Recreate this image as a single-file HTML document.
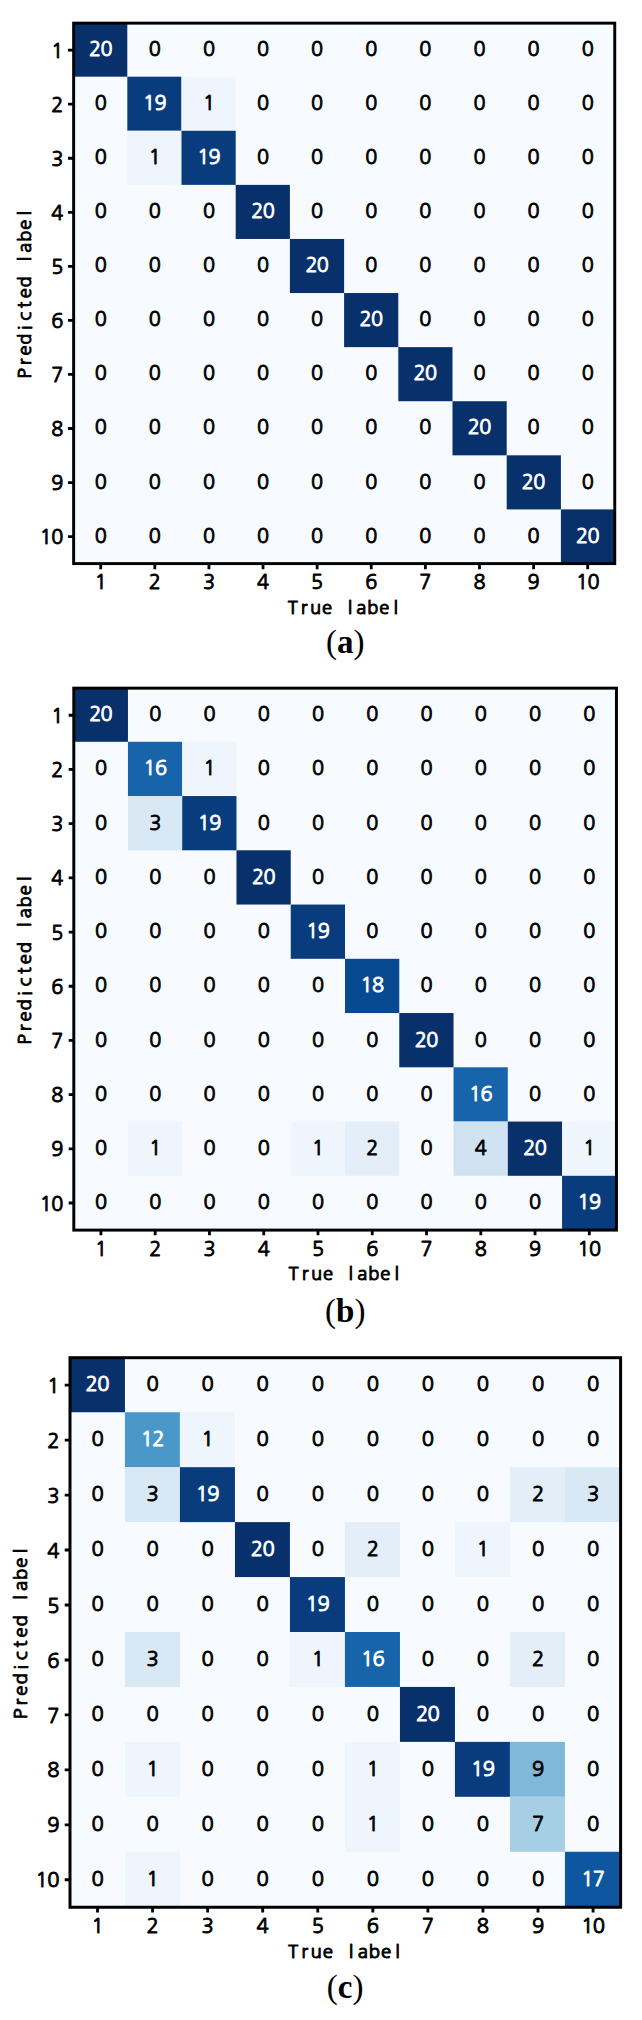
<!DOCTYPE html>
<html><head><meta charset="utf-8"><title>Confusion matrices</title>
<style>html,body{margin:0;padding:0;background:#fff}svg{display:block}</style></head>
<body>
<svg width="642" height="2020" viewBox="0 0 642 2020">
<rect width="642" height="2020" fill="#fff"/>
<rect x="73.65" y="23.15" width="541.1" height="540.45" fill="#f7fbff"/>
<rect x="73.1" y="22.6" width="54.2" height="54.09" fill="#08306b"/>
<rect x="127.3" y="76.69" width="54.2" height="54.09" fill="#083c7d"/>
<rect x="181.5" y="76.69" width="54.2" height="54.09" fill="#eef5fc"/>
<rect x="127.3" y="130.78" width="54.2" height="54.09" fill="#eef5fc"/>
<rect x="181.5" y="130.78" width="54.2" height="54.09" fill="#083c7d"/>
<rect x="235.7" y="184.87" width="54.2" height="54.09" fill="#08306b"/>
<rect x="289.9" y="238.96" width="54.2" height="54.09" fill="#08306b"/>
<rect x="344.1" y="293.05" width="54.2" height="54.09" fill="#08306b"/>
<rect x="398.3" y="347.14" width="54.2" height="54.09" fill="#08306b"/>
<rect x="452.5" y="401.23" width="54.2" height="54.09" fill="#08306b"/>
<rect x="506.7" y="455.32" width="54.2" height="54.09" fill="#08306b"/>
<rect x="560.9" y="509.41" width="54.2" height="54.09" fill="#08306b"/>
<rect x="73.65" y="23.15" width="541.1" height="540.45" fill="none" stroke="#000" stroke-width="2.95"/>
<path d="M73.65 50.17h-5.7M100.71 563.6v5.7M73.65 104.22h-5.7M154.81 563.6v5.7M73.65 158.26h-5.7M208.93 563.6v5.7M73.65 212.31h-5.7M263.03 563.6v5.7M73.65 266.35h-5.7M317.14 563.6v5.7M73.65 320.4h-5.7M371.25 563.6v5.7M73.65 374.44h-5.7M425.37 563.6v5.7M73.65 428.49h-5.7M479.48 563.6v5.7M73.65 482.53h-5.7M533.59 563.6v5.7M73.65 536.58h-5.7M587.69 563.6v5.7" stroke="#000" stroke-width="2.8" fill="none"/>
<g transform="scale(1.0 1)" font-family="NanumGothic, Liberation Sans, sans-serif" font-size="19.9" text-anchor="middle" stroke-width="0.9" stroke-linejoin="round" fill="#000" stroke="#000">
<text x="94.99 106.42" y="55.77" fill="#fff" stroke="#fff">20</text>
<text x="154.81" y="55.77">0</text>
<text x="208.93" y="55.77">0</text>
<text x="263.03" y="55.77">0</text>
<text x="317.14" y="55.77">0</text>
<text x="371.25" y="55.77">0</text>
<text x="425.37" y="55.77">0</text>
<text x="479.48" y="55.77">0</text>
<text x="533.59" y="55.77">0</text>
<text x="587.69" y="55.77">0</text>
<text x="100.71" y="109.87">0</text>
<text x="149.1 160.53" y="109.87" fill="#fff" stroke="#fff">19</text>
<text x="208.93" y="109.87">1</text>
<text x="263.03" y="109.87">0</text>
<text x="317.14" y="109.87">0</text>
<text x="371.25" y="109.87">0</text>
<text x="425.37" y="109.87">0</text>
<text x="479.48" y="109.87">0</text>
<text x="533.59" y="109.87">0</text>
<text x="587.69" y="109.87">0</text>
<text x="100.71" y="163.97">0</text>
<text x="154.81" y="163.97">1</text>
<text x="203.21 214.64" y="163.97" fill="#fff" stroke="#fff">19</text>
<text x="263.03" y="163.97">0</text>
<text x="317.14" y="163.97">0</text>
<text x="371.25" y="163.97">0</text>
<text x="425.37" y="163.97">0</text>
<text x="479.48" y="163.97">0</text>
<text x="533.59" y="163.97">0</text>
<text x="587.69" y="163.97">0</text>
<text x="100.71" y="218.07">0</text>
<text x="154.81" y="218.07">0</text>
<text x="208.93" y="218.07">0</text>
<text x="257.32 268.75" y="218.07" fill="#fff" stroke="#fff">20</text>
<text x="317.14" y="218.07">0</text>
<text x="371.25" y="218.07">0</text>
<text x="425.37" y="218.07">0</text>
<text x="479.48" y="218.07">0</text>
<text x="533.59" y="218.07">0</text>
<text x="587.69" y="218.07">0</text>
<text x="100.71" y="272.17">0</text>
<text x="154.81" y="272.17">0</text>
<text x="208.93" y="272.17">0</text>
<text x="263.03" y="272.17">0</text>
<text x="311.43 322.86" y="272.17" fill="#fff" stroke="#fff">20</text>
<text x="371.25" y="272.17">0</text>
<text x="425.37" y="272.17">0</text>
<text x="479.48" y="272.17">0</text>
<text x="533.59" y="272.17">0</text>
<text x="587.69" y="272.17">0</text>
<text x="100.71" y="326.28">0</text>
<text x="154.81" y="326.28">0</text>
<text x="208.93" y="326.28">0</text>
<text x="263.03" y="326.28">0</text>
<text x="317.14" y="326.28">0</text>
<text x="365.54 376.97" y="326.28" fill="#fff" stroke="#fff">20</text>
<text x="425.37" y="326.28">0</text>
<text x="479.48" y="326.28">0</text>
<text x="533.59" y="326.28">0</text>
<text x="587.69" y="326.28">0</text>
<text x="100.71" y="380.38">0</text>
<text x="154.81" y="380.38">0</text>
<text x="208.93" y="380.38">0</text>
<text x="263.03" y="380.38">0</text>
<text x="317.14" y="380.38">0</text>
<text x="371.25" y="380.38">0</text>
<text x="419.65 431.08" y="380.38" fill="#fff" stroke="#fff">20</text>
<text x="479.48" y="380.38">0</text>
<text x="533.59" y="380.38">0</text>
<text x="587.69" y="380.38">0</text>
<text x="100.71" y="434.48">0</text>
<text x="154.81" y="434.48">0</text>
<text x="208.93" y="434.48">0</text>
<text x="263.03" y="434.48">0</text>
<text x="317.14" y="434.48">0</text>
<text x="371.25" y="434.48">0</text>
<text x="425.37" y="434.48">0</text>
<text x="473.76 485.19" y="434.48" fill="#fff" stroke="#fff">20</text>
<text x="533.59" y="434.48">0</text>
<text x="587.69" y="434.48">0</text>
<text x="100.71" y="488.58">0</text>
<text x="154.81" y="488.58">0</text>
<text x="208.93" y="488.58">0</text>
<text x="263.03" y="488.58">0</text>
<text x="317.14" y="488.58">0</text>
<text x="371.25" y="488.58">0</text>
<text x="425.37" y="488.58">0</text>
<text x="479.48" y="488.58">0</text>
<text x="527.87 539.3" y="488.58" fill="#fff" stroke="#fff">20</text>
<text x="587.69" y="488.58">0</text>
<text x="100.71" y="542.68">0</text>
<text x="154.81" y="542.68">0</text>
<text x="208.93" y="542.68">0</text>
<text x="263.03" y="542.68">0</text>
<text x="317.14" y="542.68">0</text>
<text x="371.25" y="542.68">0</text>
<text x="425.37" y="542.68">0</text>
<text x="479.48" y="542.68">0</text>
<text x="533.59" y="542.68">0</text>
<text x="581.98 593.41" y="542.68" fill="#fff" stroke="#fff">20</text>
<text x="100.71" y="589.2">1</text>
<text x="154.81" y="589.2">2</text>
<text x="208.93" y="589.2">3</text>
<text x="263.03" y="589.2">4</text>
<text x="317.14" y="589.2">5</text>
<text x="371.25" y="589.2">6</text>
<text x="425.37" y="589.2">7</text>
<text x="479.48" y="589.2">8</text>
<text x="533.59" y="589.2">9</text>
<text x="581.98 593.41" y="589.2">10</text>
<text x="57.25" y="57.67">1</text>
<text x="57.25" y="111.72">2</text>
<text x="57.25" y="165.76">3</text>
<text x="57.25" y="219.81">4</text>
<text x="57.25" y="273.85">5</text>
<text x="57.25" y="327.9">6</text>
<text x="57.25" y="381.94">7</text>
<text x="57.25" y="435.99">8</text>
<text x="57.25" y="490.03">9</text>
<text x="45.82 57.25" y="544.08">10</text>
</g>
<text transform="scale(1.03 1)" font-family="NanumGothic, Liberation Sans, sans-serif" font-size="17.8" text-anchor="middle" stroke-width="0.9" stroke-linejoin="round" fill="#000" stroke="#000" x="284.24 295.33 306.43 317.53 328.63 339.72 350.82 361.92 373.01 384.11" y="613.8">True label</text>
<text transform="translate(31.45 293.38) rotate(-90) scale(1.03 1)" font-family="NanumGothic, Liberation Sans, sans-serif" font-size="17.8" text-anchor="middle" stroke-width="0.9" stroke-linejoin="round" fill="#000" stroke="#000" x="-77.68 -66.58 -55.49 -44.39 -33.29 -22.19 -11.1 0 11.1 22.19 33.29 44.39 55.49 66.58 77.68" y="0">Predicted label</text>
<text x="345.2" y="652.7" font-family="Liberation Serif, serif" font-size="33" text-anchor="middle" fill="#000">(<tspan font-weight="bold">a</tspan>)</text>
<rect x="73.8" y="688.15" width="542.65" height="541.95" fill="#f7fbff"/>
<rect x="73.68" y="687.55" width="54.27" height="54.25" fill="#08306b"/>
<rect x="127.95" y="741.8" width="54.27" height="54.25" fill="#1764ab"/>
<rect x="182.21" y="741.8" width="54.27" height="54.25" fill="#eef5fc"/>
<rect x="127.95" y="796.05" width="54.27" height="54.25" fill="#d9e8f5"/>
<rect x="182.21" y="796.05" width="54.27" height="54.25" fill="#083c7d"/>
<rect x="236.48" y="850.3" width="54.27" height="54.25" fill="#08306b"/>
<rect x="290.74" y="904.55" width="54.27" height="54.25" fill="#083c7d"/>
<rect x="345" y="958.8" width="54.27" height="54.25" fill="#084a91"/>
<rect x="399.27" y="1013.05" width="54.27" height="54.25" fill="#08306b"/>
<rect x="453.54" y="1067.3" width="54.27" height="54.25" fill="#1764ab"/>
<rect x="127.95" y="1121.55" width="54.27" height="54.25" fill="#eef5fc"/>
<rect x="290.74" y="1121.55" width="54.27" height="54.25" fill="#eef5fc"/>
<rect x="345" y="1121.55" width="54.27" height="54.25" fill="#e3eef9"/>
<rect x="453.54" y="1121.55" width="54.27" height="54.25" fill="#d0e1f2"/>
<rect x="507.8" y="1121.55" width="54.27" height="54.25" fill="#08306b"/>
<rect x="562.07" y="1121.55" width="54.27" height="54.25" fill="#eef5fc"/>
<rect x="562.07" y="1175.8" width="54.27" height="54.25" fill="#083c7d"/>
<rect x="73.8" y="688.15" width="542.65" height="541.95" fill="none" stroke="#000" stroke-width="2.96"/>
<path d="M73.8 715.25h-5.12M100.93 1230.1v5.12M73.8 769.44h-5.12M155.2 1230.1v5.12M73.8 823.64h-5.12M209.46 1230.1v5.12M73.8 877.83h-5.12M263.73 1230.1v5.12M73.8 932.03h-5.12M317.99 1230.1v5.12M73.8 986.22h-5.12M372.26 1230.1v5.12M73.8 1040.42h-5.12M426.52 1230.1v5.12M73.8 1094.61h-5.12M480.79 1230.1v5.12M73.8 1148.81h-5.12M535.05 1230.1v5.12M73.8 1203h-5.12M589.32 1230.1v5.12" stroke="#000" stroke-width="2.81" fill="none"/>
<g transform="scale(1.0 1)" font-family="NanumGothic, Liberation Sans, sans-serif" font-size="19.96" text-anchor="middle" stroke-width="0.9" stroke-linejoin="round" fill="#000" stroke="#000">
<text x="95.2 106.66" y="721.27" fill="#fff" stroke="#fff">20</text>
<text x="155.2" y="721.27">0</text>
<text x="209.46" y="721.27">0</text>
<text x="263.73" y="721.27">0</text>
<text x="317.99" y="721.27">0</text>
<text x="372.26" y="721.27">0</text>
<text x="426.52" y="721.27">0</text>
<text x="480.79" y="721.27">0</text>
<text x="535.05" y="721.27">0</text>
<text x="589.32" y="721.27">0</text>
<text x="100.93" y="775.48">0</text>
<text x="149.47 160.93" y="775.48" fill="#fff" stroke="#fff">16</text>
<text x="209.46" y="775.48">1</text>
<text x="263.73" y="775.48">0</text>
<text x="317.99" y="775.48">0</text>
<text x="372.26" y="775.48">0</text>
<text x="426.52" y="775.48">0</text>
<text x="480.79" y="775.48">0</text>
<text x="535.05" y="775.48">0</text>
<text x="589.32" y="775.48">0</text>
<text x="100.93" y="829.7">0</text>
<text x="155.2" y="829.7">3</text>
<text x="203.73 215.19" y="829.7" fill="#fff" stroke="#fff">19</text>
<text x="263.73" y="829.7">0</text>
<text x="317.99" y="829.7">0</text>
<text x="372.26" y="829.7">0</text>
<text x="426.52" y="829.7">0</text>
<text x="480.79" y="829.7">0</text>
<text x="535.05" y="829.7">0</text>
<text x="589.32" y="829.7">0</text>
<text x="100.93" y="883.92">0</text>
<text x="155.2" y="883.92">0</text>
<text x="209.46" y="883.92">0</text>
<text x="258 269.46" y="883.92" fill="#fff" stroke="#fff">20</text>
<text x="317.99" y="883.92">0</text>
<text x="372.26" y="883.92">0</text>
<text x="426.52" y="883.92">0</text>
<text x="480.79" y="883.92">0</text>
<text x="535.05" y="883.92">0</text>
<text x="589.32" y="883.92">0</text>
<text x="100.93" y="938.13">0</text>
<text x="155.2" y="938.13">0</text>
<text x="209.46" y="938.13">0</text>
<text x="263.73" y="938.13">0</text>
<text x="312.26 323.72" y="938.13" fill="#fff" stroke="#fff">19</text>
<text x="372.26" y="938.13">0</text>
<text x="426.52" y="938.13">0</text>
<text x="480.79" y="938.13">0</text>
<text x="535.05" y="938.13">0</text>
<text x="589.32" y="938.13">0</text>
<text x="100.93" y="992.35">0</text>
<text x="155.2" y="992.35">0</text>
<text x="209.46" y="992.35">0</text>
<text x="263.73" y="992.35">0</text>
<text x="317.99" y="992.35">0</text>
<text x="366.53 377.99" y="992.35" fill="#fff" stroke="#fff">18</text>
<text x="426.52" y="992.35">0</text>
<text x="480.79" y="992.35">0</text>
<text x="535.05" y="992.35">0</text>
<text x="589.32" y="992.35">0</text>
<text x="100.93" y="1046.57">0</text>
<text x="155.2" y="1046.57">0</text>
<text x="209.46" y="1046.57">0</text>
<text x="263.73" y="1046.57">0</text>
<text x="317.99" y="1046.57">0</text>
<text x="372.26" y="1046.57">0</text>
<text x="420.79 432.25" y="1046.57" fill="#fff" stroke="#fff">20</text>
<text x="480.79" y="1046.57">0</text>
<text x="535.05" y="1046.57">0</text>
<text x="589.32" y="1046.57">0</text>
<text x="100.93" y="1100.79">0</text>
<text x="155.2" y="1100.79">0</text>
<text x="209.46" y="1100.79">0</text>
<text x="263.73" y="1100.79">0</text>
<text x="317.99" y="1100.79">0</text>
<text x="372.26" y="1100.79">0</text>
<text x="426.52" y="1100.79">0</text>
<text x="475.06 486.52" y="1100.79" fill="#fff" stroke="#fff">16</text>
<text x="535.05" y="1100.79">0</text>
<text x="589.32" y="1100.79">0</text>
<text x="100.93" y="1155">0</text>
<text x="155.2" y="1155">1</text>
<text x="209.46" y="1155">0</text>
<text x="263.73" y="1155">0</text>
<text x="317.99" y="1155">1</text>
<text x="372.26" y="1155">2</text>
<text x="426.52" y="1155">0</text>
<text x="480.79" y="1155">4</text>
<text x="529.32 540.78" y="1155" fill="#fff" stroke="#fff">20</text>
<text x="589.32" y="1155">1</text>
<text x="100.93" y="1209.22">0</text>
<text x="155.2" y="1209.22">0</text>
<text x="209.46" y="1209.22">0</text>
<text x="263.73" y="1209.22">0</text>
<text x="317.99" y="1209.22">0</text>
<text x="372.26" y="1209.22">0</text>
<text x="426.52" y="1209.22">0</text>
<text x="480.79" y="1209.22">0</text>
<text x="535.05" y="1209.22">0</text>
<text x="583.59 595.05" y="1209.22" fill="#fff" stroke="#fff">19</text>
<text x="100.93" y="1255.78">1</text>
<text x="155.2" y="1255.78">2</text>
<text x="209.46" y="1255.78">3</text>
<text x="263.73" y="1255.78">4</text>
<text x="317.99" y="1255.78">5</text>
<text x="372.26" y="1255.78">6</text>
<text x="426.52" y="1255.78">7</text>
<text x="480.79" y="1255.78">8</text>
<text x="535.05" y="1255.78">9</text>
<text x="583.59 595.05" y="1255.78">10</text>
<text x="57.35" y="722.77">1</text>
<text x="57.35" y="776.97">2</text>
<text x="57.35" y="831.16">3</text>
<text x="57.35" y="885.36">4</text>
<text x="57.35" y="939.55">5</text>
<text x="57.35" y="993.75">6</text>
<text x="57.35" y="1047.94">7</text>
<text x="57.35" y="1102.13">8</text>
<text x="57.35" y="1156.33">9</text>
<text x="45.89 57.35" y="1210.53">10</text>
</g>
<text transform="scale(1.03 1)" font-family="NanumGothic, Liberation Sans, sans-serif" font-size="17.85" text-anchor="middle" stroke-width="0.9" stroke-linejoin="round" fill="#000" stroke="#000" x="284.99 296.12 307.25 318.38 329.51 340.64 351.77 362.9 374.03 385.16" y="1280.45">True label</text>
<text transform="translate(31.47 959.12) rotate(-90) scale(1.03 1)" font-family="NanumGothic, Liberation Sans, sans-serif" font-size="17.85" text-anchor="middle" stroke-width="0.9" stroke-linejoin="round" fill="#000" stroke="#000" x="-77.91 -66.78 -55.65 -44.52 -33.39 -22.26 -11.13 0 11.13 22.26 33.39 44.52 55.65 66.78 77.91" y="0">Predicted label</text>
<text x="345.2" y="1321.7" font-family="Liberation Serif, serif" font-size="33" text-anchor="middle" fill="#000">(<tspan font-weight="bold">b</tspan>)</text>
<rect x="70" y="1357.7" width="550.6" height="549.55" fill="#f7fbff"/>
<rect x="69.94" y="1357.3" width="55" height="54.94" fill="#08306b"/>
<rect x="124.94" y="1412.24" width="55" height="54.94" fill="#4a98c9"/>
<rect x="179.94" y="1412.24" width="55" height="54.94" fill="#eef5fc"/>
<rect x="124.94" y="1467.18" width="55" height="54.94" fill="#d9e8f5"/>
<rect x="179.94" y="1467.18" width="55" height="54.94" fill="#083c7d"/>
<rect x="509.94" y="1467.18" width="55" height="54.94" fill="#e3eef9"/>
<rect x="564.94" y="1467.18" width="55" height="54.94" fill="#d9e8f5"/>
<rect x="234.94" y="1522.12" width="55" height="54.94" fill="#08306b"/>
<rect x="344.94" y="1522.12" width="55" height="54.94" fill="#e3eef9"/>
<rect x="454.94" y="1522.12" width="55" height="54.94" fill="#eef5fc"/>
<rect x="289.94" y="1577.06" width="55" height="54.94" fill="#083c7d"/>
<rect x="124.94" y="1632" width="55" height="54.94" fill="#d9e8f5"/>
<rect x="289.94" y="1632" width="55" height="54.94" fill="#eef5fc"/>
<rect x="344.94" y="1632" width="55" height="54.94" fill="#1764ab"/>
<rect x="509.94" y="1632" width="55" height="54.94" fill="#e3eef9"/>
<rect x="399.94" y="1686.94" width="55" height="54.94" fill="#08306b"/>
<rect x="124.94" y="1741.88" width="55" height="54.94" fill="#eef5fc"/>
<rect x="344.94" y="1741.88" width="55" height="54.94" fill="#eef5fc"/>
<rect x="454.94" y="1741.88" width="55" height="54.94" fill="#083c7d"/>
<rect x="509.94" y="1741.88" width="55" height="54.94" fill="#7fb9da"/>
<rect x="344.94" y="1796.82" width="55" height="54.94" fill="#eef5fc"/>
<rect x="509.94" y="1796.82" width="55" height="54.94" fill="#a6cee4"/>
<rect x="124.94" y="1851.76" width="55" height="54.94" fill="#eef5fc"/>
<rect x="564.94" y="1851.76" width="55" height="54.94" fill="#0d57a1"/>
<rect x="70" y="1357.7" width="550.6" height="549.55" fill="none" stroke="#000" stroke-width="3"/>
<path d="M70 1385.18h-5.29M97.53 1907.25v5.29M70 1440.13h-5.29M152.59 1907.25v5.29M70 1495.09h-5.29M207.65 1907.25v5.29M70 1550.04h-5.29M262.71 1907.25v5.29M70 1605h-5.29M317.77 1907.25v5.29M70 1659.95h-5.29M372.83 1907.25v5.29M70 1714.91h-5.29M427.89 1907.25v5.29M70 1769.86h-5.29M482.95 1907.25v5.29M70 1824.82h-5.29M538.01 1907.25v5.29M70 1879.77h-5.29M593.07 1907.25v5.29" stroke="#000" stroke-width="2.85" fill="none"/>
<g transform="scale(1.0 1)" font-family="NanumGothic, Liberation Sans, sans-serif" font-size="20.24" text-anchor="middle" stroke-width="0.92" stroke-linejoin="round" fill="#000" stroke="#000">
<text x="91.72 103.34" y="1391.08" fill="#fff" stroke="#fff">20</text>
<text x="152.59" y="1391.08">0</text>
<text x="207.65" y="1391.08">0</text>
<text x="262.71" y="1391.08">0</text>
<text x="317.77" y="1391.08">0</text>
<text x="372.83" y="1391.08">0</text>
<text x="427.89" y="1391.08">0</text>
<text x="482.95" y="1391.08">0</text>
<text x="538.01" y="1391.08">0</text>
<text x="593.07" y="1391.08">0</text>
<text x="97.53" y="1446.08">0</text>
<text x="146.78 158.4" y="1446.08" fill="#fff" stroke="#fff">12</text>
<text x="207.65" y="1446.08">1</text>
<text x="262.71" y="1446.08">0</text>
<text x="317.77" y="1446.08">0</text>
<text x="372.83" y="1446.08">0</text>
<text x="427.89" y="1446.08">0</text>
<text x="482.95" y="1446.08">0</text>
<text x="538.01" y="1446.08">0</text>
<text x="593.07" y="1446.08">0</text>
<text x="97.53" y="1501.08">0</text>
<text x="152.59" y="1501.08">3</text>
<text x="201.84 213.46" y="1501.08" fill="#fff" stroke="#fff">19</text>
<text x="262.71" y="1501.08">0</text>
<text x="317.77" y="1501.08">0</text>
<text x="372.83" y="1501.08">0</text>
<text x="427.89" y="1501.08">0</text>
<text x="482.95" y="1501.08">0</text>
<text x="538.01" y="1501.08">2</text>
<text x="593.07" y="1501.08">3</text>
<text x="97.53" y="1556.08">0</text>
<text x="152.59" y="1556.08">0</text>
<text x="207.65" y="1556.08">0</text>
<text x="256.9 268.52" y="1556.08" fill="#fff" stroke="#fff">20</text>
<text x="317.77" y="1556.08">0</text>
<text x="372.83" y="1556.08">2</text>
<text x="427.89" y="1556.08">0</text>
<text x="482.95" y="1556.08">1</text>
<text x="538.01" y="1556.08">0</text>
<text x="593.07" y="1556.08">0</text>
<text x="97.53" y="1611.08">0</text>
<text x="152.59" y="1611.08">0</text>
<text x="207.65" y="1611.08">0</text>
<text x="262.71" y="1611.08">0</text>
<text x="311.96 323.58" y="1611.08" fill="#fff" stroke="#fff">19</text>
<text x="372.83" y="1611.08">0</text>
<text x="427.89" y="1611.08">0</text>
<text x="482.95" y="1611.08">0</text>
<text x="538.01" y="1611.08">0</text>
<text x="593.07" y="1611.08">0</text>
<text x="97.53" y="1666.08">0</text>
<text x="152.59" y="1666.08">3</text>
<text x="207.65" y="1666.08">0</text>
<text x="262.71" y="1666.08">0</text>
<text x="317.77" y="1666.08">1</text>
<text x="367.02 378.64" y="1666.08" fill="#fff" stroke="#fff">16</text>
<text x="427.89" y="1666.08">0</text>
<text x="482.95" y="1666.08">0</text>
<text x="538.01" y="1666.08">2</text>
<text x="593.07" y="1666.08">0</text>
<text x="97.53" y="1721.08">0</text>
<text x="152.59" y="1721.08">0</text>
<text x="207.65" y="1721.08">0</text>
<text x="262.71" y="1721.08">0</text>
<text x="317.77" y="1721.08">0</text>
<text x="372.83" y="1721.08">0</text>
<text x="422.08 433.7" y="1721.08" fill="#fff" stroke="#fff">20</text>
<text x="482.95" y="1721.08">0</text>
<text x="538.01" y="1721.08">0</text>
<text x="593.07" y="1721.08">0</text>
<text x="97.53" y="1776.08">0</text>
<text x="152.59" y="1776.08">1</text>
<text x="207.65" y="1776.08">0</text>
<text x="262.71" y="1776.08">0</text>
<text x="317.77" y="1776.08">0</text>
<text x="372.83" y="1776.08">1</text>
<text x="427.89" y="1776.08">0</text>
<text x="477.14 488.76" y="1776.08" fill="#fff" stroke="#fff">19</text>
<text x="538.01" y="1776.08">9</text>
<text x="593.07" y="1776.08">0</text>
<text x="97.53" y="1831.08">0</text>
<text x="152.59" y="1831.08">0</text>
<text x="207.65" y="1831.08">0</text>
<text x="262.71" y="1831.08">0</text>
<text x="317.77" y="1831.08">0</text>
<text x="372.83" y="1831.08">1</text>
<text x="427.89" y="1831.08">0</text>
<text x="482.95" y="1831.08">0</text>
<text x="538.01" y="1831.08">7</text>
<text x="593.07" y="1831.08">0</text>
<text x="97.53" y="1886.08">0</text>
<text x="152.59" y="1886.08">1</text>
<text x="207.65" y="1886.08">0</text>
<text x="262.71" y="1886.08">0</text>
<text x="317.77" y="1886.08">0</text>
<text x="372.83" y="1886.08">0</text>
<text x="427.89" y="1886.08">0</text>
<text x="482.95" y="1886.08">0</text>
<text x="538.01" y="1886.08">0</text>
<text x="587.26 598.88" y="1886.08" fill="#fff" stroke="#fff">17</text>
<text x="97.53" y="1933.29">1</text>
<text x="152.59" y="1933.29">2</text>
<text x="207.65" y="1933.29">3</text>
<text x="262.71" y="1933.29">4</text>
<text x="317.77" y="1933.29">5</text>
<text x="372.83" y="1933.29">6</text>
<text x="427.89" y="1933.29">7</text>
<text x="482.95" y="1933.29">8</text>
<text x="538.01" y="1933.29">9</text>
<text x="587.26 598.88" y="1933.29">10</text>
<text x="53.32" y="1392.81">1</text>
<text x="53.32" y="1447.76">2</text>
<text x="53.32" y="1502.72">3</text>
<text x="53.32" y="1557.67">4</text>
<text x="53.32" y="1612.62">5</text>
<text x="53.32" y="1667.58">6</text>
<text x="53.32" y="1722.54">7</text>
<text x="53.32" y="1777.49">8</text>
<text x="53.32" y="1832.45">9</text>
<text x="41.7 53.32" y="1887.4">10</text>
</g>
<text transform="scale(1.03 1)" font-family="NanumGothic, Liberation Sans, sans-serif" font-size="18.1" text-anchor="middle" stroke-width="0.92" stroke-linejoin="round" fill="#000" stroke="#000" x="284.46 295.74 307.03 318.31 329.6 340.89 352.17 363.46 374.74 386.03" y="1958.3">True label</text>
<text transform="translate(27.08 1632.47) rotate(-90) scale(1.03 1)" font-family="NanumGothic, Liberation Sans, sans-serif" font-size="18.1" text-anchor="middle" stroke-width="0.92" stroke-linejoin="round" fill="#000" stroke="#000" x="-79 -67.71 -56.43 -45.14 -33.86 -22.57 -11.29 0 11.29 22.57 33.86 45.14 56.43 67.71 79" y="0">Predicted label</text>
<text x="345.2" y="1997.9" font-family="Liberation Serif, serif" font-size="33" text-anchor="middle" fill="#000">(<tspan font-weight="bold">c</tspan>)</text>
</svg>
</body></html>
